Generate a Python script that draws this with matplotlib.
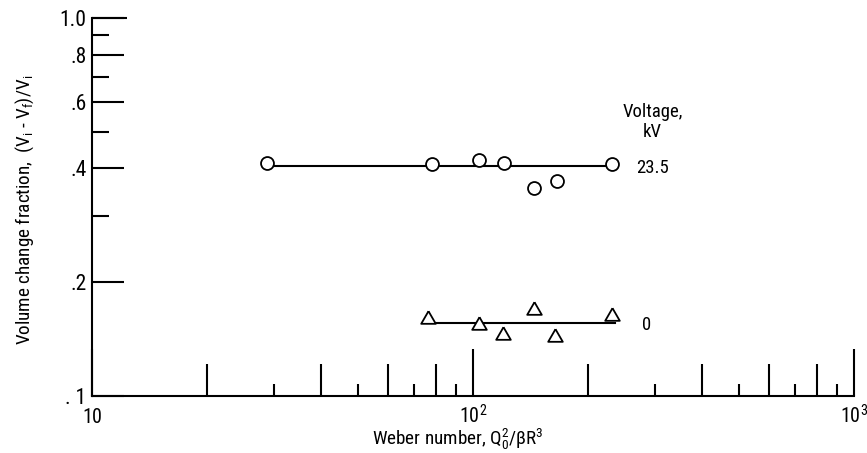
import matplotlib
matplotlib.use("Agg")
import matplotlib.pyplot as plt
import matplotlib.ticker as mticker
import matplotlib.transforms as mtrans

# ---- data ----
circ_x = [28.8, 78.0, 103.7, 120.6, 231.6, 144.5, 166.0]
circ_y = [0.413, 0.411, 0.421, 0.413, 0.411, 0.355, 0.370]
circ_fit_x = [28.8, 231.6]
circ_fit_y = [0.406, 0.406]

tri_x = [76.2, 103.7, 119.9, 144.5, 164.0, 231.6]
tri_y = [0.162, 0.156, 0.147, 0.171, 0.145, 0.165]
tri_fit_x = [75.7, 236.0]
tri_fit_y = [0.156, 0.156]

voltage_labels = ["23.5", "0"]
ytick_vals = [0.1, 0.2, 0.4, 0.6, 0.8, 1.0]
ytick_labels = [". 1", ".2", ".4", ".6", ".8", "1.0"]
xtick_vals = [10, 100, 1000]
xtick_labels = [r"$\mathregular{10}$", r"$\mathregular{10^2}$", r"$\mathregular{10^3}$"]

FONT = ["Roboto Condensed", "DejaVu Sans"]
plt.rcParams["font.family"] = FONT
plt.rcParams["mathtext.fontset"] = "custom"
plt.rcParams["mathtext.rm"] = "Roboto Condensed"
plt.rcParams["mathtext.it"] = "Roboto Condensed"
plt.rcParams["mathtext.bf"] = "Roboto Condensed"

fig = plt.figure(figsize=(8.67, 4.53), dpi=100)
ax = fig.add_axes([92 / 867, 57 / 453, 762 / 867, 378 / 453])
ax.set_xscale("log")
ax.set_yscale("log")
ax.set_xlim(10, 1000)
ax.set_ylim(0.1, 1.0)

tri_marker = [(0, 0.75), (-0.866, -0.75), (0.866, -0.75), (0, 0.75)]

lw = 1.5
ax.plot(circ_fit_x, circ_fit_y, color="black", lw=lw, zorder=2)
ax.plot(circ_x, circ_y, linestyle="none", marker="o", ms=9.3, mfc="white",
        mec="black", mew=1.3, zorder=3)
ax.plot(tri_fit_x, tri_fit_y, color="black", lw=lw, zorder=2)
ax.plot(tri_x, tri_y, linestyle="none", marker=tri_marker, ms=10.5, mfc="white",
        mec="black", mew=1.3, zorder=3)

tfs = 13.5
ax.text(296, 0.564, "Voltage,", ha="center", va="center", fontsize=tfs)
ax.text(296, 0.499, "kV", ha="center", va="center", fontsize=tfs)
ax.text(296, 0.402, voltage_labels[0], ha="center", va="center", fontsize=tfs)
ax.text(286, 0.154, voltage_labels[1], ha="center", va="center", fontsize=tfs)

for s in ["top", "right"]:
    ax.spines[s].set_visible(False)
for s in ["left", "bottom"]:
    ax.spines[s].set_linewidth(1.5)

# y ticks
ax.yaxis.set_major_locator(mticker.FixedLocator(ytick_vals))
ax.yaxis.set_major_formatter(mticker.FixedFormatter(ytick_labels))
ax.yaxis.set_minor_locator(mticker.FixedLocator([0.3, 0.5, 0.7, 0.9]))
ax.yaxis.set_minor_formatter(mticker.NullFormatter())
ax.tick_params(axis="y", which="major", direction="in", length=23, width=1.5,
               pad=4, labelsize=15.5)
ax.tick_params(axis="y", which="minor", direction="in", length=12, width=1.5)

# x ticks
ax.xaxis.set_major_locator(mticker.FixedLocator(xtick_vals))
ax.xaxis.set_major_formatter(mticker.FixedFormatter(xtick_labels))
ax.xaxis.set_minor_locator(mticker.FixedLocator([20, 40, 60, 80, 200, 400, 600, 800]))
ax.xaxis.set_minor_formatter(mticker.NullFormatter())
ax.tick_params(axis="x", which="major", direction="in", length=34, width=1.5,
               pad=19.5, labelsize=14.5)
ax.tick_params(axis="x", which="minor", direction="in", length=23, width=1.5)
for lab in ax.get_xticklabels():
    lab.set_va("baseline")

# short odd x ticks
xt = mtrans.blended_transform_factory(ax.transData, ax.transAxes)
odd = [30, 50, 70, 90, 300, 500, 700, 900]
ax.vlines(odd, 0, 12 / 378, transform=xt, color="black", lw=1.5, clip_on=False)
# long tick at 1.0
yt = mtrans.blended_transform_factory(ax.transAxes, ax.transData)
ax.hlines([1.0], 0, 35 / 762, transform=yt, color="black", lw=1.5, clip_on=False)

lfs = 13.8
ax.set_xlabel(r"Weber number, Q$_0^2$/βR$^3$", fontsize=lfs)
ax.set_ylabel(r"Volume change fraction,  (V$_\mathregular{i}$ - V$_\mathregular{f}$)/V$_\mathregular{i}$",
              fontsize=lfs)
ax.xaxis.set_label_coords((458 - 92) / 762, -(439 - 396) / 378)
ax.xaxis.label.set_va("center")
ax.yaxis.set_label_coords(-(92 - 25) / 762, (396 - 210) / 378)
ax.yaxis.label.set_va("center")

fig.savefig("out.png", dpi=100)
